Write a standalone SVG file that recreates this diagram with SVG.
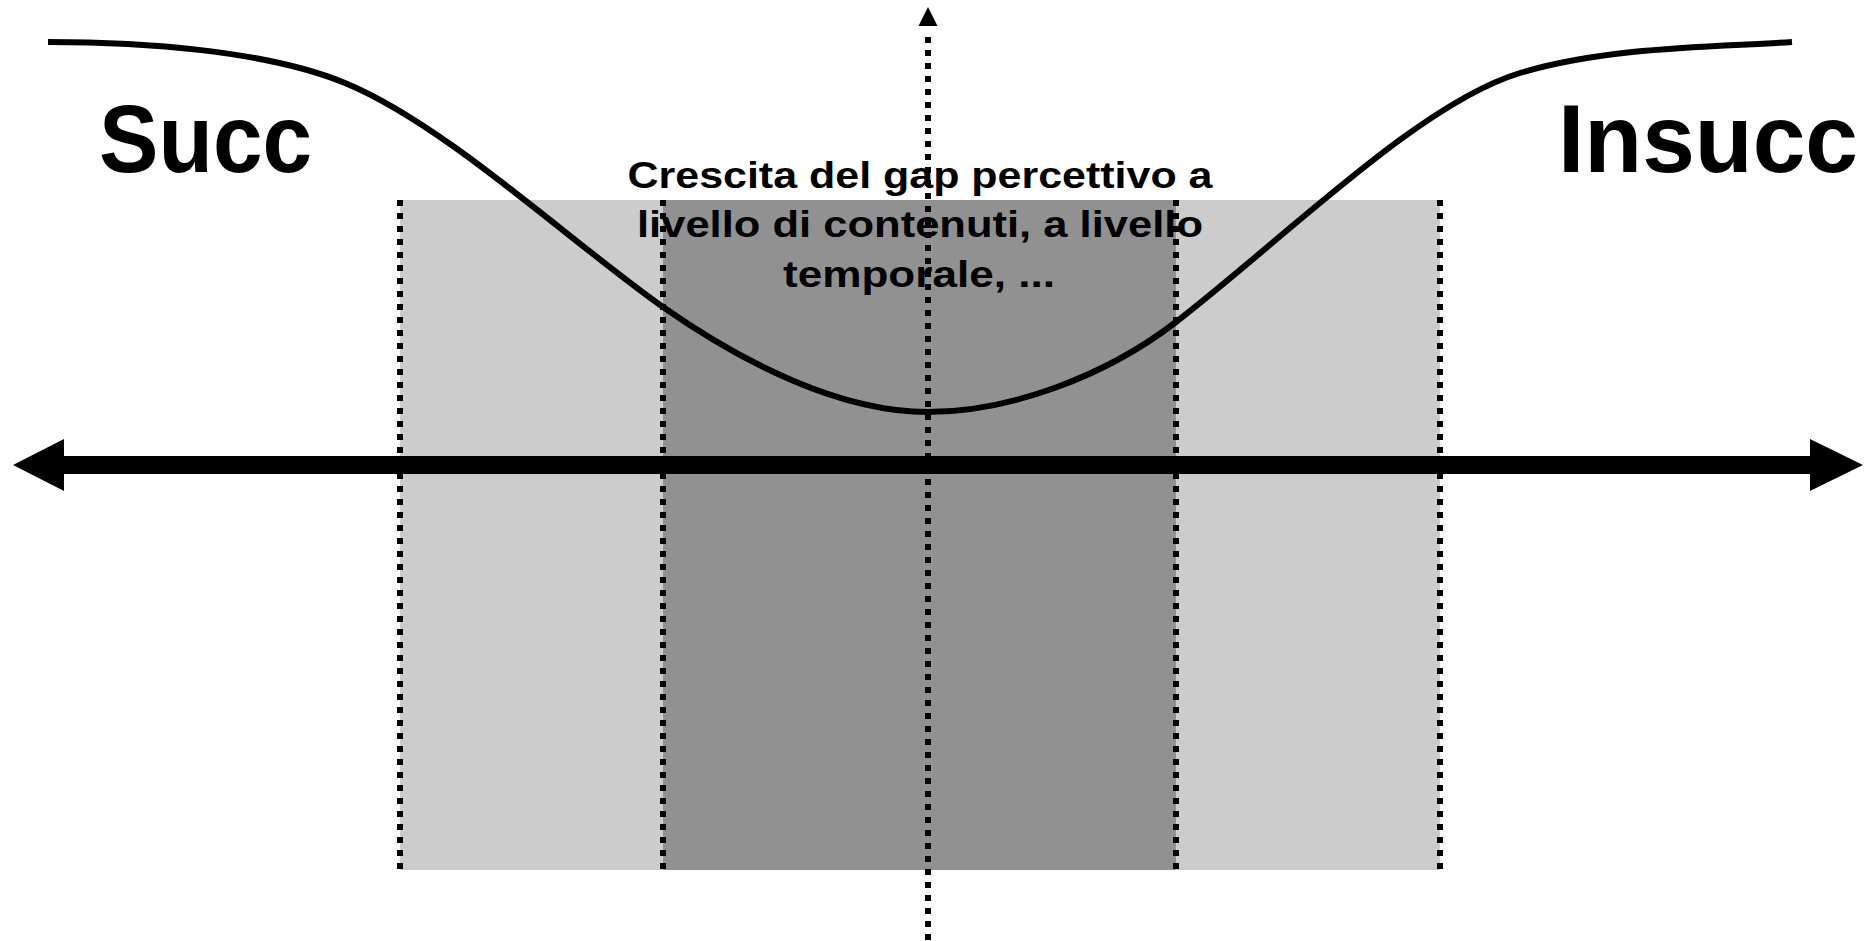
<svg xmlns="http://www.w3.org/2000/svg" width="1867" height="941" viewBox="0 0 1867 941">
<style>
.dot{stroke:#000;stroke-width:6;stroke-dasharray:6 7;fill:none}
.lbl{font-family:"Liberation Sans",Arial,sans-serif;font-weight:bold;fill:#000}
</style>
<rect width="1867" height="941" fill="#fff"/>
<g id="zone-outer">
<rect x="400" y="200" width="1040" height="670" fill="#cccccc"/>
</g>
<g id="zone-inner">
<rect x="663" y="200" width="513" height="670" fill="#919191"/>
</g>
<g id="title">
<text class="lbl" font-size="36" x="920" y="188" text-anchor="middle" textLength="585" lengthAdjust="spacingAndGlyphs">Crescita del gap percettivo a</text>
<text class="lbl" font-size="36" x="920" y="237" text-anchor="middle" textLength="566" lengthAdjust="spacingAndGlyphs">livello di contenuti, a livello</text>
<text class="lbl" font-size="36" x="919" y="287" text-anchor="middle" textLength="272" lengthAdjust="spacingAndGlyphs">temporale, ...</text>
</g>
<g id="succ">
<text class="lbl" font-size="96" x="99" y="172" textLength="213" lengthAdjust="spacingAndGlyphs">Succ</text>
</g>
<g id="insucc">
<text class="lbl" font-size="96" x="1558" y="172" textLength="300" lengthAdjust="spacingAndGlyphs">Insucc</text>
</g>
<g id="connectors">
<line class="dot" x1="400" y1="200" x2="400" y2="870"/>
<line class="dot" x1="663" y1="200" x2="663" y2="870"/>
<line class="dot" x1="1176" y1="200" x2="1176" y2="870"/>
<line class="dot" x1="1440" y1="200" x2="1440" y2="870"/>
<line class="dot" x1="928" y1="37" x2="928" y2="941"/>
<polygon points="928,7 937.5,26 918.5,26" fill="#000"/>
<rect x="62" y="456" width="1750" height="18" fill="#000"/>
<polygon points="13,465 64,439 64,491" fill="#000"/>
<polygon points="1863,465 1810,439 1810,491" fill="#000"/>
<path d="M48,42 C140,42 265,50 345,83 C445,124 573,244 663,307 C743,363 840,412 928,412 C1010,412 1106,376 1176,322 C1286,237 1420,103 1520,73 C1610,46 1720,47 1792,42" fill="none" stroke="#000" stroke-width="6"/>
</g>
</svg>
